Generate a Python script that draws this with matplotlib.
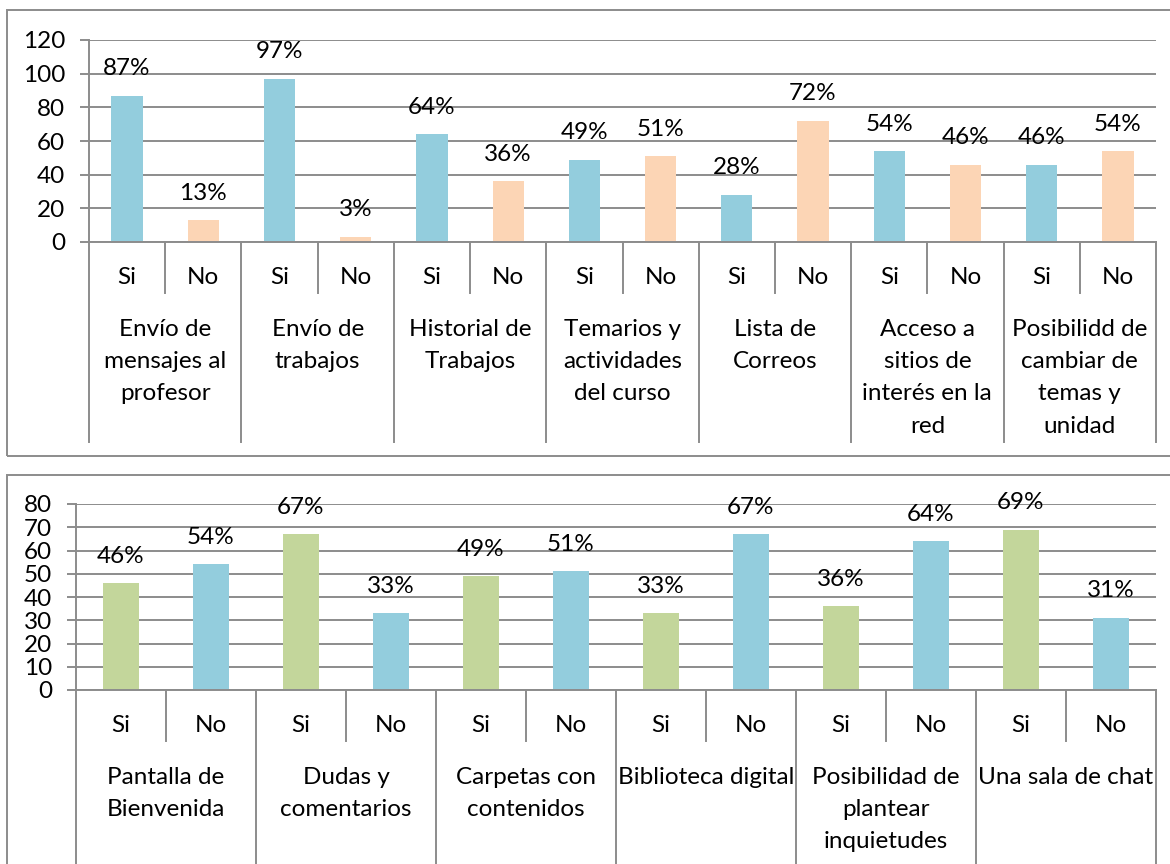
import matplotlib.pyplot as plt
import matplotlib.transforms as mtransforms
from matplotlib.patches import Rectangle

plt.rcParams['font.family'] = ['Lato', 'DejaVu Sans']

# top chart data
top_groups = ["Envío de\nmensajes al\nprofesor", "Envío de\ntrabajos", "Historial de\nTrabajos",
              "Temarios y\nactividades\ndel curso", "Lista de\nCorreos",
              "Acceso a\nsitios de\ninterés en la\nred", "Posibilidd de\ncambiar de\ntemas y\nunidad"]
top_si = [87, 97, 64, 49, 28, 54, 46]
top_no = [13, 3, 36, 51, 72, 46, 54]
top_yticks = [0, 20, 40, 60, 80, 100, 120]

# bottom chart data
bot_groups = ["Pantalla de\nBienvenida", "Dudas y\ncomentarios", "Carpetas con\ncontenidos",
              "Biblioteca digital", "Posibilidad de\nplantear\ninquietudes", "Una sala de chat"]
bot_si = [46, 67, 49, 33, 36, 69]
bot_no = [54, 33, 51, 67, 64, 31]
bot_yticks = [0, 10, 20, 30, 40, 50, 60, 70, 80]

sub_labels = ["Si", "No"]

BLUE = "#93CDDD"
PEACH = "#FCD5B5"
GREEN = "#C3D69B"
GRAY = "#8C8C8C"
FS = 17.5

W, H = 1170, 864
fig = plt.figure(figsize=(W / 100, H / 100), dpi=100)

def px2pt(p):
    return p * 0.72

def draw(rect, groups, si, no, c_si, c_no, yticks):
    # rect in pixels: left, right, top (y of max), bottom (y of 0)
    l, r, t, b = rect
    ax = fig.add_axes([l / W, 1 - b / H, (r - l) / W, (b - t) / H])
    n = len(groups) * 2
    vals, cols = [], []
    for s, o in zip(si, no):
        vals += [s, o]
        cols += [c_si, c_no]
    xs = list(range(n))
    ax.bar(xs, vals, width=0.41, color=cols, zorder=3)
    for x, v in zip(xs, vals):
        ax.annotate(f"{v}%", (x, v), xytext=(0, px2pt(27)), textcoords="offset points",
                    ha="center", va="center", fontsize=FS, color="black", zorder=4)
    ax.set_xlim(-0.5, n - 0.5)
    ax.set_ylim(yticks[0], yticks[-1])
    ax.set_yticks(yticks)
    ax.yaxis.grid(True, color=GRAY, lw=1.4, zorder=0)
    ax.set_axisbelow(True)
    ax.tick_params(axis="y", length=px2pt(9), width=1.4, color=GRAY, labelsize=FS, pad=px2pt(15))
    ax.set_xticks([])
    for sp in ["top", "right", "bottom"]:
        ax.spines[sp].set_visible(False)
    ax.spines["left"].set_color(GRAY)
    ax.spines["left"].set_linewidth(1.4)

    hpx = b - t
    tr = mtransforms.blended_transform_factory(ax.transData, ax.transAxes)
    ax.plot([-0.5, n - 0.5], [0, 0], transform=tr, color=GRAY, lw=1.4, clip_on=False, zorder=5)
    for k in range(n + 1):
        x = k - 0.5
        depth = 200 if k % 2 == 0 else 51
        ax.plot([x, x], [0, -depth / hpx], transform=tr, color=GRAY, lw=1.4, clip_on=False)
    for x in xs:
        ax.annotate(sub_labels[x % 2], (x, 0), xycoords=("data", "axes fraction"),
                    xytext=(0, -px2pt(35)), textcoords="offset points",
                    ha="center", va="center", fontsize=FS)
    for g, name in enumerate(groups):
        for j, line in enumerate(name.split("\n")):
            ax.annotate(line, (2 * g + 0.5, 0), xycoords=("data", "axes fraction"),
                        xytext=(0, -px2pt(87 + 32.5 * j)), textcoords="offset points",
                        ha="center", va="center", fontsize=FS)
    return ax

# panel frames
fig.patches.append(Rectangle((7 / W, 1 - 456 / H), 1200 / W, 446 / H, transform=fig.transFigure,
                             fill=False, edgecolor=GRAY, lw=1.4))
fig.patches.append(Rectangle((7 / W, 1 - 900 / H), 1200 / W, 425 / H, transform=fig.transFigure,
                             fill=False, edgecolor=GRAY, lw=1.4))

draw((89, 1156, 40, 242), top_groups, top_si, top_no, BLUE, PEACH, top_yticks)
draw((76, 1156, 504, 690), bot_groups, bot_si, bot_no, GREEN, BLUE, bot_yticks)

fig.savefig("out.png", dpi=100)
